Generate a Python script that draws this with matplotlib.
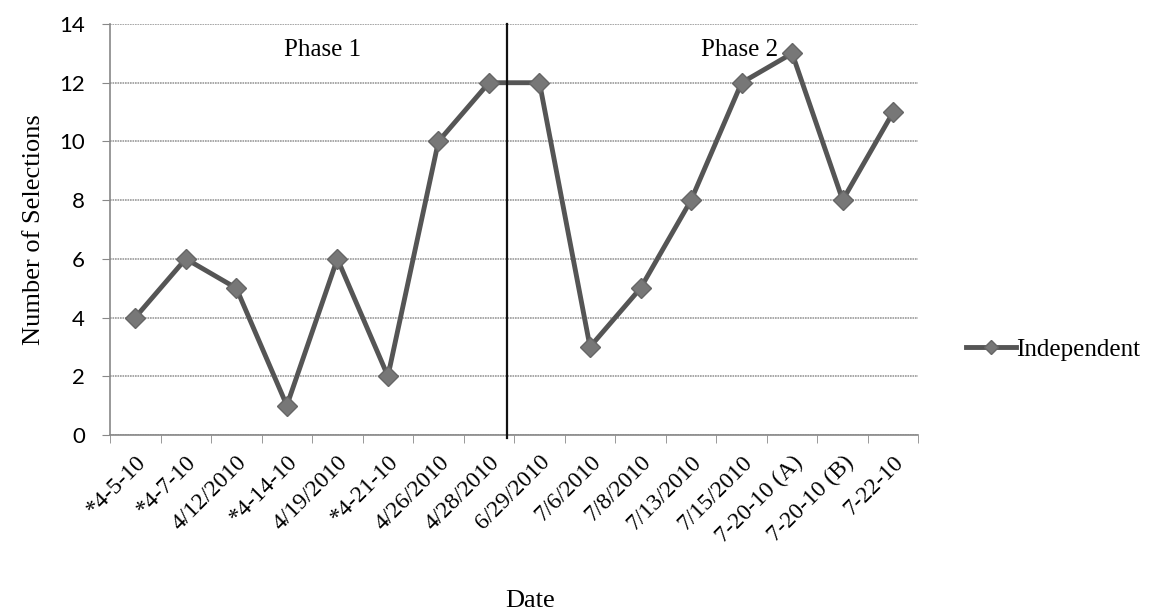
import matplotlib.pyplot as plt
from matplotlib.ticker import FixedLocator

dates = ["*4-5-10", "*4-7-10", "4/12/2010", "*4-14-10", "4/19/2010", "*4-21-10",
         "4/26/2010", "4/28/2010", "6/29/2010", "7/6/2010", "7/8/2010", "7/13/2010",
         "7/15/2010", "7-20-10 (A)", "7-20-10 (B)", "7-22-10"]
selections = [4, 6, 5, 1, 6, 2, 10, 12, 12, 3, 5, 8, 12, 13, 8, 11]
phase_labels = ["Phase 1", "Phase 2"]
phase_break = 7.35

serif = ["Liberation Serif", "DejaVu Serif"]

fig = plt.figure(figsize=(11.65, 6.16), dpi=100)
ax = fig.add_axes([0.0944, 0.294, 0.694, 0.667])

x = list(range(len(dates)))
line, = ax.plot(x, selections, color="#555555", lw=3.5, marker="D", ms=10,
                markerfacecolor="#777777", markeredgecolor="#666666", zorder=3,
                label="Independent")

ax.set_xlim(-0.5, len(dates) - 0.5)
ax.set_ylim(0, 14)
ax.set_yticks(range(0, 15, 2))
ax.grid(axis="y", color="#9a9a9a", lw=1.2, ls=(0, (1, 0.5)))
ax.set_axisbelow(True)

ax.set_xticks(x)
ax.set_xticklabels(dates, rotation=45, ha="right", rotation_mode="anchor",
                   family=serif, fontsize=17)
ax.tick_params(axis="x", length=0, pad=12)
ax.xaxis.set_minor_locator(FixedLocator([i - 0.5 for i in range(len(dates) + 1)]))
ax.tick_params(axis="x", which="minor", length=6, color="#888888", direction="out")
ax.tick_params(axis="y", length=6, color="#888888", labelsize=16, pad=12)
for lab in ax.get_yticklabels():
    lab.set_family("Lato")

for s in ["top", "right"]:
    ax.spines[s].set_visible(False)
for s in ["left", "bottom"]:
    ax.spines[s].set_color("#888888")
    ax.spines[s].set_linewidth(1.2)

ax.plot([phase_break, phase_break], [-0.12, 14], color="#111111", lw=1.6,
        clip_on=False, zorder=4)
ax.text(3.7, 13.1, phase_labels[0], family=serif, fontsize=18, ha="center", va="center")
ax.text(11.95, 13.1, phase_labels[1], family=serif, fontsize=18, ha="center", va="center")

ax.set_ylabel("Number of Selections", family=serif, fontsize=19, labelpad=10)
fig.text(0.455, 0.015, "Date", family=serif, fontsize=19, ha="center")

fig.legend(handles=[line], loc="center left", bbox_to_anchor=(0.81, 0.432),
           frameon=False, prop={"family": serif, "size": 18},
           handlelength=2.0, handletextpad=0.0, markerscale=0.7)

fig.savefig("out.png", dpi=100)
